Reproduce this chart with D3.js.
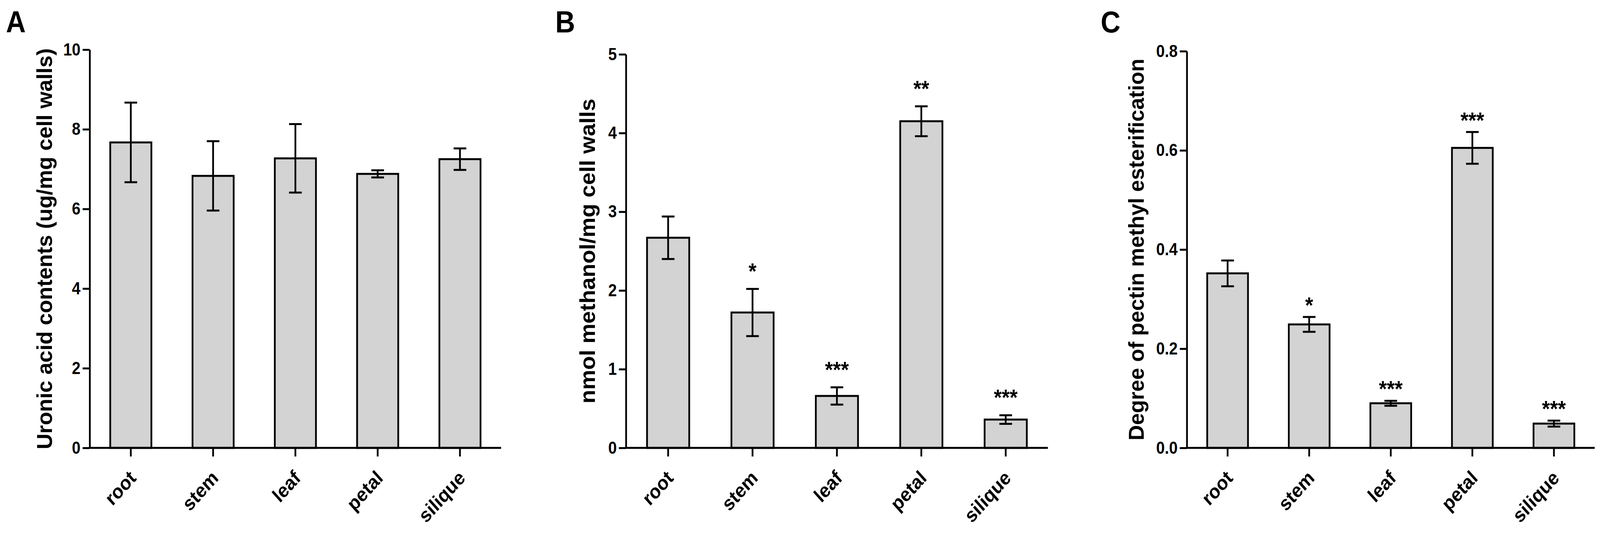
<!DOCTYPE html>
<html>
<head>
<meta charset="utf-8">
<script src="https://cdn.jsdelivr.net/npm/d3@7"></script>
<style>
  html, body { margin: 0; padding: 0; background: #fff; overflow: hidden; }
  #fig svg { display: block; width: 100vw; height: 100vh; }
  svg text { font-family: Arial, "Liberation Sans", sans-serif; }
</style>
</head>
<body>
<div id="fig"></div>
<script>
const frame_width = 4550;
const frame_height = 1374;
const base_y = 1146;          // y of the zero line, same for all three panels
const bar_fill = "#d3d3d3";
const line_w = 5;

// data
const categories = ["root", "stem", "leaf", "petal", "silique"];

const uronic_mean = [7.67, 6.83, 7.27, 6.88, 7.25];
const uronic_err = [1.00, 0.87, 0.86, 0.09, 0.27];
const uronic_ticks = [0, 2, 4, 6, 8, 10];

const methanol_mean = [2.67, 1.72, 0.66, 4.15, 0.36];
const methanol_err = [0.27, 0.30, 0.11, 0.19, 0.055];
const methanol_stars = ["", "*", "***", "**", "***"];
const methanol_ticks = [0, 1, 2, 3, 4, 5];

const ester_mean = [0.352, 0.249, 0.090, 0.605, 0.049];
const ester_err = [0.026, 0.015, 0.005, 0.032, 0.006];
const ester_stars = ["", "*", "***", "***", "***"];
const ester_ticks = [0, 0.2, 0.4, 0.6, 0.8];

const panel_letters = ["A", "B", "C"];
const y_titles = [
    "Uronic acid contents (ug/mg cell walls)",
    "nmol methanol/mg cell walls",
    "Degree of pectin methyl esterification"
];

// layout of each panel (pixels)
const panels = [
    {letter_x: 17, left: 255, right: 1425, top: 127, title_x: 148, title_len: 1026, star_gap: 0,
     mean: uronic_mean, err: uronic_err, stars: null, ticks: uronic_ticks, fmt: d3.format("d")},
    {letter_x: 1579, left: 1780, right: 2980, top: 139, title_x: 1692, title_len: 780, star_gap: 57,
     mean: methanol_mean, err: methanol_err, stars: methanol_stars, ticks: methanol_ticks, fmt: d3.format("d")},
    {letter_x: 3130, left: 3375, right: 4535, top: 131, title_x: 3252, title_len: 977, star_gap: 42,
     mean: ester_mean, err: ester_err, stars: ester_stars, ticks: ester_ticks, fmt: d3.format(".1f")}
];

// viewBox stretched to the window so the figure fills it edge to edge
const svg = d3.select("#fig")
    .append("svg")
        .attr("viewBox", "0 0 " + frame_width + " " + frame_height)
        .attr("preserveAspectRatio", "none");

panels.forEach((p, pi) => {
    const data = categories.map((c, i) => ({cat: c, mean: p.mean[i], err: p.err[i],
                                             star: p.stars ? p.stars[i] : ""}));

    const X_SCALE = d3.scaleBand()
        .domain(categories)
        .range([p.left, p.right])
        .paddingInner(0.5)
        .paddingOuter(0.25);

    const Y_SCALE = d3.scaleLinear()
        .domain([0, d3.max(p.ticks)])
        .range([base_y, p.top]);

    const g = svg.append("g");

    // panel letter
    g.append("text")
        .attr("x", p.letter_x)
        .attr("y", 83)
        .attr("font-size", 78)
        .attr("font-weight", "bold")
        .text(panel_letters[pi]);

    // bars
    g.selectAll(".bar")
        .data(data)
        .enter()
        .append("rect")
            .attr("class", "bar")
            .attr("x", (d) => X_SCALE(d.cat))
            .attr("y", (d) => Y_SCALE(d.mean))
            .attr("width", X_SCALE.bandwidth())
            .attr("height", (d) => base_y - Y_SCALE(d.mean))
            .attr("fill", bar_fill)
            .attr("stroke", "#000")
            .attr("stroke-width", line_w);

    // error bars
    const cap = 36;
    const eb = g.selectAll(".err")
        .data(data)
        .enter()
        .append("g")
            .attr("class", "err")
            .attr("stroke", "#000")
            .attr("stroke-width", line_w);
    eb.append("line")
        .attr("x1", (d) => X_SCALE(d.cat) + X_SCALE.bandwidth() / 2)
        .attr("x2", (d) => X_SCALE(d.cat) + X_SCALE.bandwidth() / 2)
        .attr("y1", (d) => Y_SCALE(d.mean - d.err))
        .attr("y2", (d) => Y_SCALE(d.mean + d.err));
    [1, -1].forEach((s) => {
        eb.append("line")
            .attr("x1", (d) => X_SCALE(d.cat) + X_SCALE.bandwidth() / 2 - cap / 2)
            .attr("x2", (d) => X_SCALE(d.cat) + X_SCALE.bandwidth() / 2 + cap / 2)
            .attr("y1", (d) => Y_SCALE(d.mean + s * d.err))
            .attr("y2", (d) => Y_SCALE(d.mean + s * d.err));
    });

    // significance stars
    if (p.stars) {
        g.selectAll(".star")
            .data(data)
            .enter()
            .append("text")
                .attr("class", "star")
                .attr("x", (d) => X_SCALE(d.cat) + X_SCALE.bandwidth() / 2)
                .attr("y", (d) => Y_SCALE(d.mean + d.err) - p.star_gap + 32)
                .attr("text-anchor", "middle")
                .attr("font-size", 58)
                .attr("font-weight", "bold")
                .text((d) => d.star);
    }

    // y axis
    const yAxis = g.append("g")
        .attr("transform", "translate(" + p.left + ",0)")
        .call(d3.axisLeft(Y_SCALE)
            .tickValues(p.ticks)
            .tickFormat(p.fmt)
            .tickSize(20)
            .tickSizeOuter(0)
            .tickPadding(6));
    yAxis.selectAll("path, line").attr("stroke-width", line_w);
    yAxis.selectAll("text")
        .attr("font-size", 44)
        .attr("font-weight", "bold")
        .attr("fill", "#000");

    // x axis
    const xAxis = g.append("g")
        .attr("transform", "translate(0," + base_y + ")")
        .call(d3.axisBottom(X_SCALE)
            .tickSize(22)
            .tickSizeOuter(0));
    xAxis.selectAll("path, line").attr("stroke-width", line_w);
    xAxis.selectAll("text")
        .attr("x", 0)
        .attr("y", 0)
        .attr("dy", null)
        .attr("text-anchor", "end")
        .attr("transform", "translate(18,80) rotate(-45)")
        .attr("font-size", 51)
        .attr("font-weight", "bold")
        .attr("fill", "#000");
    xAxis.select(".domain").attr("d", "M" + p.left + ",0H" + p.right);

    // y title
    g.append("text")
        .attr("transform", "translate(" + p.title_x + "," + ((p.top + base_y) / 2) + ") rotate(-90)")
        .attr("text-anchor", "middle")
        .attr("font-size", 62)
        .attr("font-weight", "bold")
        .attr("textLength", p.title_len)
        .attr("lengthAdjust", "spacingAndGlyphs")
        .text(y_titles[pi]);
});
</script>
</body>
</html>
